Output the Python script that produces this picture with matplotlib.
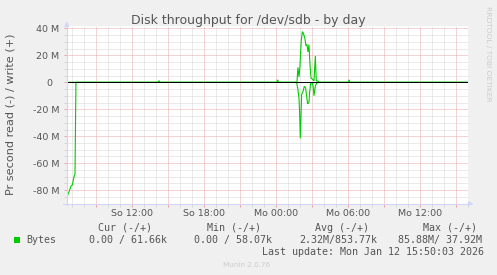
import matplotlib
matplotlib.use('Agg')
import matplotlib.pyplot as plt
from matplotlib.patches import Rectangle, Polygon
from matplotlib.lines import Line2D
from matplotlib.ticker import FixedLocator, MultipleLocator

W, H = 497, 275

# ---- data (hours relative to Mo 00:00, values in MB/s) ----
read_hours = [-17.44, -17.28, -17.08, -16.97, -16.83, -16.75, -16.67,
              1.72, 1.81, 1.92, 1.97, 2.03, 2.14, 2.25, 2.36, 2.47, 2.58,
              2.64, 2.75, 2.81, 2.89, 3.03, 3.11, 3.17, 3.28, 3.42, 16.0]
read_mb = [85, 82, 77, 76, 70, 68, 0,
           0, 4, 12, 22, 41.5, 9, 7, 3, 4, 12,
           16, 15, 7, 1, 0, 4, 10, 3, 0, 0]

write_hours = [-17.44, -9.83, -9.75, -9.67, 0.06, 0.14, 0.22,
               1.75, 1.83, 1.92, 2.0, 2.1, 2.2, 2.25, 2.33, 2.42, 2.5,
               2.58, 2.67, 2.75, 2.83, 2.92, 3.08, 3.17, 3.28, 3.36, 3.5,
               3.58, 6.03, 6.1, 6.17, 16.0]
write_mb = [0, 0, 1.2, 0, 0, 1.8, 0,
            0, 11, 4, 12, 30, 37.5, 37, 35, 32, 27,
            28, 22.5, 28, 14, 3, 2, 1, 19.5, 1, 1,
            0, 0, 1.8, 0, 0]

x_start, x_end = -17.44, 16.03
y_min, y_max = -90, 41.5

x_major_hours = [-15, -12, -9, -6, -3, 0, 3, 6, 9, 12, 15]
x_major_labels = ['', 'So 12:00', '', 'So 18:00', '', 'Mo 00:00', '', 'Mo 06:00', '', 'Mo 12:00', '']
y_tick_values = [40, 20, 0, -20, -40, -60, -80]
y_tick_labels = ['40 M', '20 M', '0\u2007', '-20 M', '-40 M', '-60 M', '-80 M']

title = 'Disk throughput for /dev/sdb - by day'
y_label = 'Pr second read (-) / write (+)'
legend_name = 'Bytes'
legend_headers = ['Cur (-/+)', 'Min (-/+)', 'Avg (-/+)', 'Max (-/+)']
legend_values = ['0.00 / 61.66k', '0.00 / 58.07k', '2.32M/853.77k', '85.88M/ 37.92M']
last_update = 'Last update: Mon Jan 12 15:50:03 2026'

# ---- styling ----
BACK = '#F0F0F0'
FONT = '#555555'
AXIS = '#CFD6F8'
GREEN = '#00CC00'
MGRID = '#E8A8A8'
GRID = '#D6D6D6'


def fx(px):
    return px / W


def fy(py):
    return 1 - py / H


fig = plt.figure(figsize=(W / 100, H / 100), dpi=100, facecolor=BACK)
L, R, T, B = 66.7, 468.3, 26.3, 203.7
ax = fig.add_axes([fx(L), fy(B), (R - L) / W, (B - T) / H])
ax.set_facecolor('white')
for s in ax.spines.values():
    s.set_visible(False)
ax.set_xlim(x_start, x_end)
ax.set_ylim(y_min, y_max)

ax.xaxis.set_major_locator(FixedLocator(x_major_hours))
ax.set_xticks(x_major_hours, x_major_labels)
ax.xaxis.set_minor_locator(MultipleLocator(1))
ax.set_yticks(y_tick_values, y_tick_labels)
ax.yaxis.set_minor_locator(MultipleLocator(5))

ax.grid(which='minor', color=GRID, lw=0.72, ls=(0, (1, 1)), zorder=0)
ax.grid(which='major', color=MGRID, lw=0.72, ls=(0, (1, 1)), zorder=0)
ax.set_axisbelow(True)
ax.tick_params(which='major', length=2, width=0.72, color=MGRID, direction='out',
               labelsize=6.8, labelcolor=FONT)
ax.tick_params(which='minor', length=2, width=0.72, color=GRID, direction='out')
ax.tick_params(axis='y', pad=3.4)
ax.tick_params(axis='x', pad=1.5)

ax.plot(write_hours, write_mb, color=GREEN, lw=0.8, zorder=2.5, solid_joinstyle='miter')
ax.plot(read_hours, [-v for v in read_mb], color=GREEN, lw=0.8, zorder=2.5, solid_joinstyle='miter')
ax.axhline(0, color='black', lw=0.72, zorder=3)

# axes with arrows
fig.add_artist(Line2D([fx(L), fx(L)], [fy(B + 1.5), fy(24)], transform=fig.transFigure,
                      color=AXIS, lw=0.8))
fig.add_artist(Polygon([(fx(L - 2.7), fy(26.8)), (fx(L + 2.7), fy(26.8)), (fx(L), fy(21.3))],
                       closed=True, transform=fig.transFigure, facecolor=AXIS, edgecolor='none'))
fig.add_artist(Line2D([fx(L - 3.4), fx(470)], [fy(B), fy(B)], transform=fig.transFigure,
                      color=AXIS, lw=0.8))
fig.add_artist(Polygon([(fx(468), fy(B - 2.7)), (fx(468), fy(B + 2.7)), (fx(473.5), fy(B))],
                       closed=True, transform=fig.transFigure, facecolor=AXIS, edgecolor='none'))

# texts
fig.text(fx(248), fy(24), title, ha='center', va='baseline', fontsize=9, color=FONT)
fig.text(fx(11), fy(114.2), y_label, rotation=90, ha='center', va='center',
         fontsize=8.1, color=FONT)
fig.text(fx(488), fy(53.5), 'RRDTOOL / TOBI OETIKER', rotation=270, ha='center', va='center',
         fontsize=5.4, color='#CCCCCC')
fig.text(fx(223), fy(267.3), 'Munin 2.0.76', ha='left', va='baseline', fontsize=5.2,
         color='#CCCCCC')

mono = dict(family='DejaVu Sans Mono', fontsize=7.2, color=FONT, ha='left', va='baseline')
header_x = [98.3, 206.7, 315.0, 422.7]
value_x = [89.0, 194.3, 299.3, 398.3]
for hx, txt in zip(header_x, legend_headers):
    fig.text(fx(hx), fy(231), txt, **mono)
for vx, txt in zip(value_x, legend_values):
    fig.text(fx(vx), fy(242.7), txt, **mono)
fig.text(fx(26.7), fy(242.7), legend_name, **mono)
fig.text(fx(261.7), fy(255), last_update, **mono)
fig.add_artist(Rectangle((fx(14), fy(242.5)), 6 / W, 6 / H, transform=fig.transFigure,
                         facecolor=GREEN, edgecolor='none'))

fig.savefig('out.png', dpi=100, facecolor=BACK)
